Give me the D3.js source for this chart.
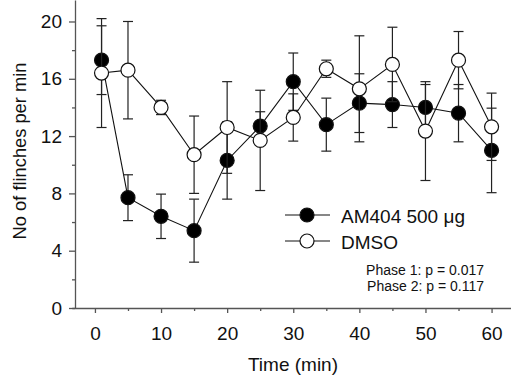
<!DOCTYPE html>
<html>
<head>
<meta charset="utf-8">
<script src="https://cdn.jsdelivr.net/npm/d3@7"></script>
<style>
  html, body { margin: 0; padding: 0; background: #fff; }
  svg { display: block; font-family: "Liberation Sans", Arial, sans-serif; }
</style>
</head>
<body>
<div id="chart"></div>
<script>
// time points (min)
const times = [1, 5, 10, 15, 20, 25, 30, 35, 40, 45, 50, 55, 60];

// AM404 500 µg: mean and SEM
const am404 = [17.3, 7.7, 6.4, 5.4, 10.3, 12.7, 15.8, 12.8, 14.3, 14.2, 14.0, 13.6, 11.0];
const am404Err = [2.4, 1.6, 1.55, 2.2, 2.7, 1.0, 2.0, 1.85, 2.05, 1.6, 1.6, 2.0, 2.95];

// DMSO: mean and SEM
const dmso = [16.4, 16.6, 14.0, 10.7, 12.6, 11.7, 13.3, 16.7, 15.3, 17.0, 12.35, 17.3, 12.65];
const dmsoErr = [3.8, 3.4, 0.5, 2.7, 3.2, 3.5, 1.65, 0.6, 3.7, 2.6, 3.45, 2.0, 2.35];

const xTicks = [0, 10, 20, 30, 40, 50, 60];
const xMinor = [5, 15, 25, 35, 45, 55];
const yTicks = [0, 4, 8, 12, 16, 20];
const yMinor = [2, 6, 10, 14, 18];

const seriesNames = ["AM404 500 \u03bcg", "DMSO"];
const statLines = ["Phase 1: p = 0.017", "Phase 2: p = 0.117"];

const width = 511, height = 375;

const svg = d3.select("#chart").append("svg")
  .attr("width", width)
  .attr("height", height);

const x = d3.scaleLinear().domain([-3.5, 63]).range([71.8, 511.4]);
const y = d3.scaleLinear().domain([0, 21.5]).range([308, 0]);
const axisX0 = 75;

const axisColor = "#555";
const textColor = "#111";

// y axis (major + minor)
const gy = svg.append("g").attr("transform", `translate(${axisX0},0)`);
gy.call(d3.axisLeft(y).tickValues(yTicks).tickSize(6).tickPadding(7).tickSizeOuter(0));
svg.append("g").attr("transform", `translate(${axisX0},0)`)
  .call(d3.axisLeft(y).tickValues(yMinor).tickSize(3).tickFormat("").tickSizeOuter(0))
  .select(".domain").remove();

// x axis (major + minor)
const gx = svg.append("g").attr("transform", `translate(0,${y(0)})`);
gx.call(d3.axisBottom(x).tickValues(xTicks).tickSize(5).tickPadding(14).tickSizeOuter(0));
svg.append("g").attr("transform", `translate(0,${y(0)})`)
  .call(d3.axisBottom(x).tickValues(xMinor).tickSize(3).tickFormat("").tickSizeOuter(0))
  .select(".domain").remove();

svg.selectAll(".domain, .tick line").attr("stroke", axisColor).attr("stroke-width", 1.3);
svg.selectAll(".tick text")
  .attr("font-size", 19)
  .attr("fill", textColor)
  .attr("font-family", "Liberation Sans, Arial, sans-serif");

// axis titles
svg.append("text")
  .attr("x", 293).attr("y", 371)
  .attr("text-anchor", "middle")
  .attr("font-size", 19)
  .attr("fill", textColor)
  .text("Time (min)");

svg.append("text")
  .attr("transform", "translate(26,151) rotate(-90)")
  .attr("text-anchor", "middle")
  .attr("font-size", 18.3)
  .attr("fill", textColor)
  .text("No of flinches per min");

// series
const series = [
  { name: seriesNames[0], mean: am404, err: am404Err, fill: "#000" },
  { name: seriesNames[1], mean: dmso, err: dmsoErr, fill: "#fff" }
];

const r = 7;
const cap = 5;
const line = d3.line().x(d => x(d.t)).y(d => y(d.m));

series.forEach(s => {
  const pts = times.map((t, i) => ({ t: t, m: s.mean[i], e: s.err[i] }));
  const g = svg.append("g");

  g.append("path")
    .datum(pts)
    .attr("d", line)
    .attr("fill", "none")
    .attr("stroke", "#111")
    .attr("stroke-width", 1.1);

  const eb = g.selectAll(".err").data(pts).join("g").attr("class", "err");
  eb.append("line")
    .attr("x1", d => x(d.t)).attr("x2", d => x(d.t))
    .attr("y1", d => y(d.m + d.e)).attr("y2", d => y(d.m - d.e));
  eb.append("line")
    .attr("x1", d => x(d.t) - cap).attr("x2", d => x(d.t) + cap)
    .attr("y1", d => y(d.m + d.e)).attr("y2", d => y(d.m + d.e));
  eb.append("line")
    .attr("x1", d => x(d.t) - cap).attr("x2", d => x(d.t) + cap)
    .attr("y1", d => y(d.m - d.e)).attr("y2", d => y(d.m - d.e));
  eb.selectAll("line").attr("stroke", "#222").attr("stroke-width", 1.2);

  g.selectAll("circle")
    .data(pts)
    .join("circle")
      .attr("cx", d => x(d.t))
      .attr("cy", d => y(d.m))
      .attr("r", r)
      .attr("fill", s.fill)
      .attr("stroke", "#111")
      .attr("stroke-width", 1.2);
});

// legend
const legend = svg.append("g");
series.forEach((s, i) => {
  const ly = 215 + i * 26;
  legend.append("line")
    .attr("x1", 285).attr("x2", 330)
    .attr("y1", ly).attr("y2", ly)
    .attr("stroke", "#111").attr("stroke-width", 1.1);
  legend.append("circle")
    .attr("cx", 307).attr("cy", ly).attr("r", r)
    .attr("fill", s.fill).attr("stroke", "#111").attr("stroke-width", 1.2);
  legend.append("text")
    .attr("x", 341).attr("y", ly + 7.5)
    .attr("font-size", 19)
    .attr("fill", textColor)
    .text(s.name);
});

// stats note
statLines.forEach((t, i) => {
  svg.append("text")
    .attr("x", 484).attr("y", 275 + i * 16)
    .attr("text-anchor", "end")
    .attr("font-size", 14)
    .attr("fill", textColor)
    .text(t);
});
</script>
</body>
</html>
